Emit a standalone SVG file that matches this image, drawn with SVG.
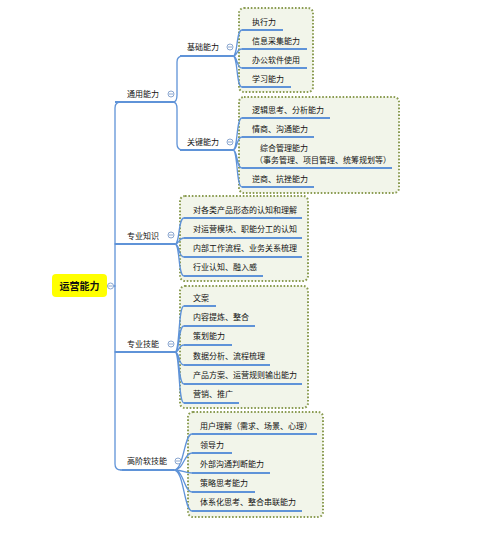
<svg xmlns="http://www.w3.org/2000/svg" width="481" height="536" viewBox="0 0 481 536">
<style>
text{font-family:"Noto Sans CJK SC","Liberation Sans",sans-serif;font-size:8px;fill:#111}
.ln{fill:none;stroke:#5f93d8;stroke-width:1.3;stroke-linecap:round}
.ul{fill:none;stroke:#5f93d8;stroke-width:1.8}
.box{fill:#f2f5ea;stroke:#8b9c52;stroke-width:2;stroke-dasharray:1.6 1.8}
.cc{fill:#fff;stroke:#8aa6cf;stroke-width:1}
.cm{stroke:#8aa6cf;stroke-width:1}
</style>
<rect width="481" height="536" fill="#fff"/>
<g id="boxes">
<rect class="box" x="239" y="8" width="74" height="84" rx="5"/>
<rect class="box" x="239" y="97" width="160" height="96" rx="5"/>
<rect class="box" x="180" y="196" width="128" height="85" rx="5"/>
<rect class="box" x="180" y="286" width="128" height="122" rx="5"/>
<rect class="box" x="188" y="412" width="135" height="105" rx="5"/>
</g>
<g id="connectors">
<path class="ln" d="M108,286 H115"/>
<path class="ln" d="M173,102 H121 Q115,102 115,108 V464 Q115,470 121,470"/>
<path class="ln" d="M115,244 H175"/>
<path class="ln" d="M115,352 H175"/>
<path class="ln" d="M121,470 H174"/>
<path class="ln" d="M173,102 Q177,102 177,95 V62 Q177,56 183,56"/>
<path class="ln" d="M173,102 Q177,102 177,109 V144 Q177,150 183,150"/>
<path class="ul" d="M180,56 H233 M180,150 H233 M115,244 H175 M115,352 H175 M122,470 H174 M115,102 H173"/>
<path class="ln" d="M233,56 C238,56 236,30 242,30 M233,56 C238,56 236,49 242,49 M233,56 C238,56 236,68 242,68 M233,56 C238,56 236,87 242,87"/>
<path class="ln" d="M233,150 C238,150 236,118 242,118 M233,150 C238,150 236,137 242,137 M233,150 C238,150 236,168 242,168 M233,150 C238,150 236,187 242,187"/>
<path class="ln" d="M175,244 C180,244 178,218 184,218 M175,244 C180,244 178,238 184,238 M175,244 C180,244 178,257 184,257 M175,244 C180,244 178,276 184,276"/>
<path class="ln" d="M175,352 C180,352 178,306 184,306 M175,352 C180,352 178,326 184,326 M175,352 C180,352 178,345 184,345 M175,352 C180,352 178,365 184,365 M175,352 C180,352 178,384 184,384 M175,352 C180,352 178,403 184,403"/>
<path class="ln" d="M174,470 C184,470 184,434 192,434 M174,470 C184,470 184,453 192,453 M174,470 C184,470 184,473 192,473 M174,470 C184,470 184,492 192,492 M174,470 C184,470 184,511 192,511"/>
<path class="ul" d="M242,30 H283 M242,49 H307 M242,68 H307 M242,87 H291"/>
<path class="ul" d="M242,118 H330 M242,137 H314 M242,168 H392 M242,187 H314"/>
<path class="ul" d="M184,218 H302 M184,238 H302 M184,257 H302 M184,276 H263"/>
<path class="ul" d="M184,306 H216 M184,326 H255 M184,345 H232 M184,365 H270 M184,384 H302 M184,403 H239"/>
<path class="ul" d="M192,434 H317 M192,453 H232 M192,473 H270 M192,492 H255 M192,511 H302"/>
</g>
<g id="root">
<rect x="52" y="274" width="55" height="23" rx="4" fill="#ffff00"/>
<text x="79.5" y="290" text-anchor="middle" style="font-size:10px;font-weight:bold">运营能力</text>
<circle class="cc" cx="110.5" cy="286" r="3"/><path class="cm" d="M108.5,286 H112.5"/>
</g>
<g id="n-tongyong"><text x="127" y="97">通用能力</text><circle class="cc" cx="171" cy="94" r="3"/><path class="cm" d="M169,94 H173"/></g>
<g id="n-jichu"><text x="187" y="50">基础能力</text><circle class="cc" cx="230" cy="47" r="3"/><path class="cm" d="M228,47 H232"/></g>
<g id="n-guanjian"><text x="187" y="145">关键能力</text><circle class="cc" cx="230" cy="142" r="3"/><path class="cm" d="M228,142 H232"/></g>
<g id="n-zhuanyezhishi"><text x="127" y="239">专业知识</text><circle class="cc" cx="171" cy="235" r="3"/><path class="cm" d="M169,235 H173"/></g>
<g id="n-zhuanyejineng"><text x="127" y="347">专业技能</text><circle class="cc" cx="171" cy="344" r="3"/><path class="cm" d="M169,344 H173"/></g>
<g id="n-gaojie"><text x="127" y="464">高阶软技能</text><circle class="cc" cx="178" cy="461" r="3"/><path class="cm" d="M176,461 H180"/></g>
<g id="c-jichu">
<text x="252" y="25">执行力</text>
<text x="252" y="44">信息采集能力</text>
<text x="252" y="63">办公软件使用</text>
<text x="252" y="82">学习能力</text>
</g>
<g id="c-guanjian">
<text x="252" y="113">逻辑思考、分析能力</text>
<text x="252" y="132">情商、沟通能力</text>
<text x="260" y="151">综合管理能力</text>
<text x="255" y="163">（事务管理、项目管理、统筹规划等）</text>
<text x="252" y="182">逆商、抗挫能力</text>
</g>
<g id="c-zhishi">
<text x="193" y="213">对各类产品形态的认知和理解</text>
<text x="193" y="232">对运营模块、职能分工的认知</text>
<text x="193" y="251">内部工作流程、业务关系梳理</text>
<text x="193" y="270">行业认知、融入感</text>
</g>
<g id="c-jineng">
<text x="193" y="301">文案</text>
<text x="193" y="320">内容提炼、整合</text>
<text x="193" y="339">策划能力</text>
<text x="193" y="359">数据分析、流程梳理</text>
<text x="193" y="378">产品方案、运营规则输出能力</text>
<text x="193" y="397">营销、推广</text>
</g>
<g id="c-gaojie">
<text x="200" y="429">用户理解（需求、场景、心理）</text>
<text x="200" y="448">领导力</text>
<text x="200" y="467">外部沟通判断能力</text>
<text x="200" y="486">策略思考能力</text>
<text x="200" y="505">体系化思考、整合串联能力</text>
</g>
</svg>
